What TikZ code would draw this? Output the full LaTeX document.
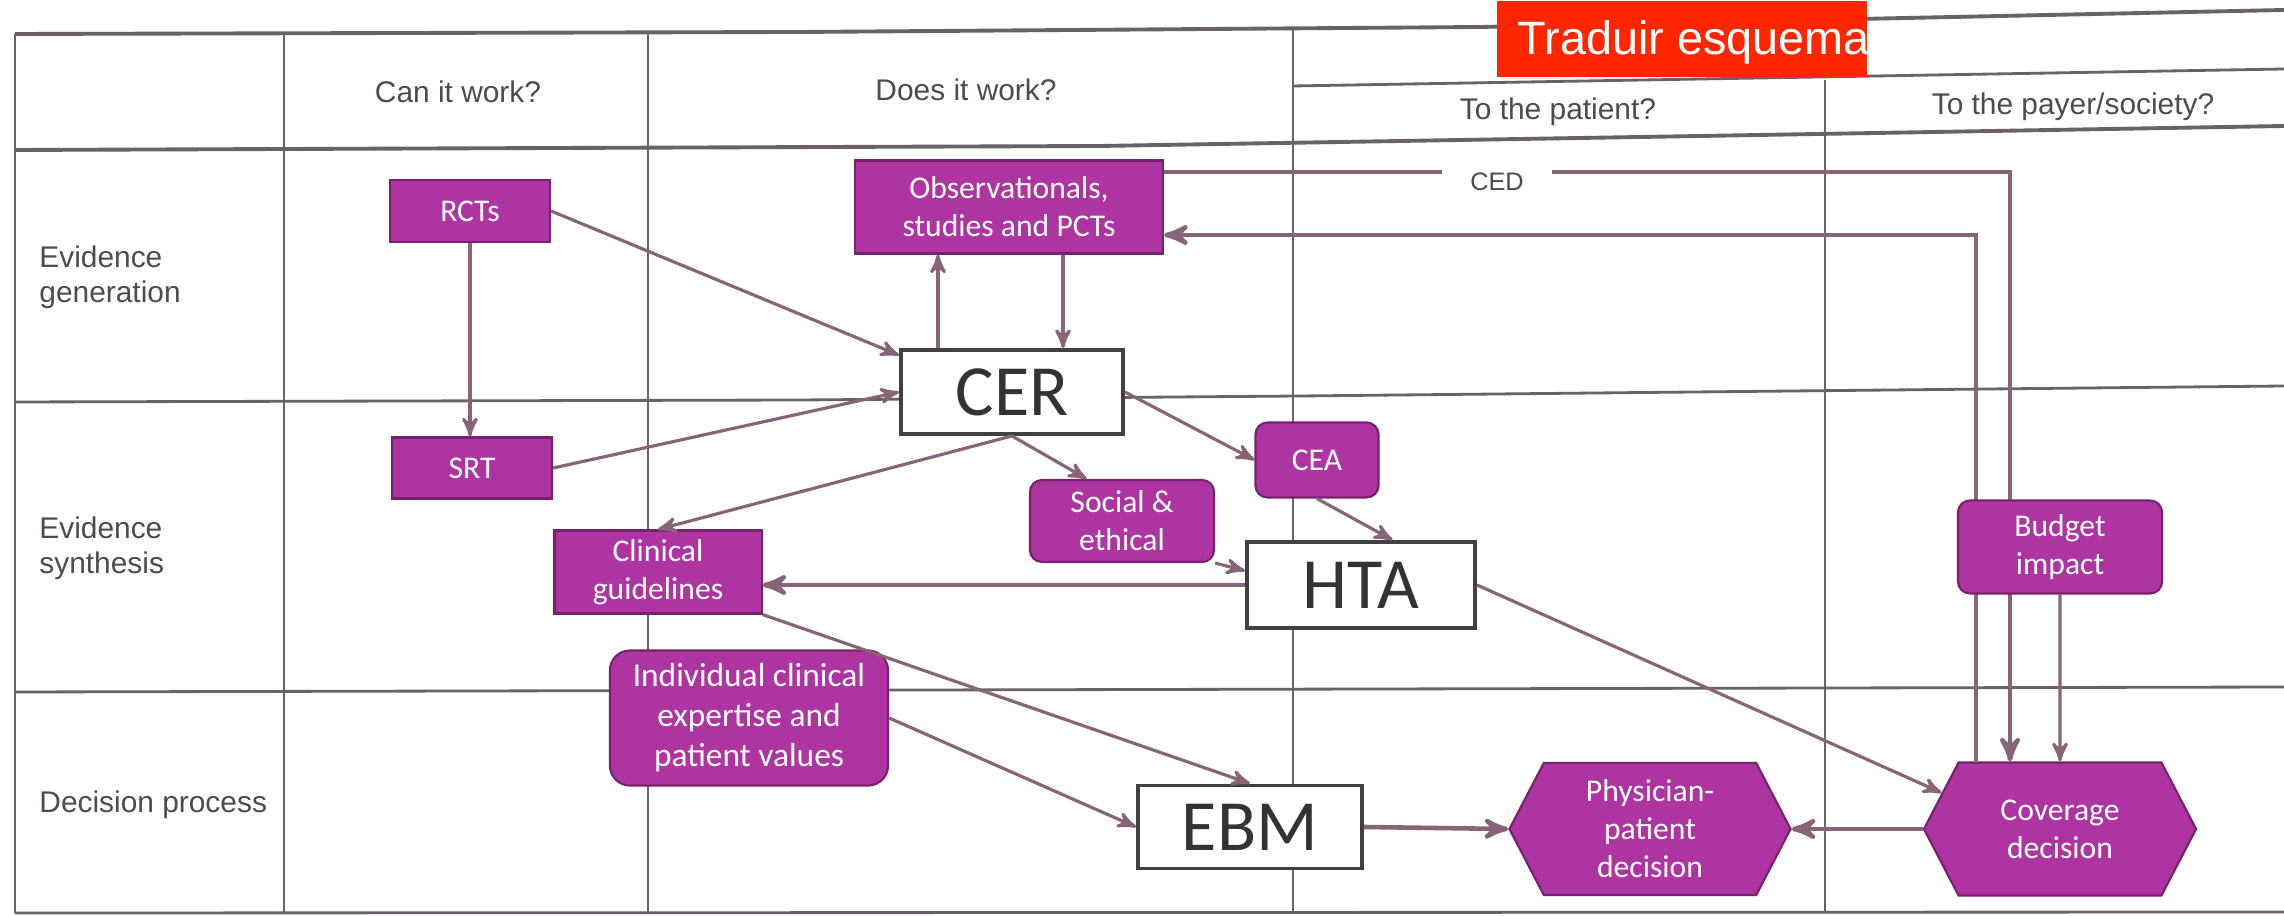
\documentclass[tikz,border=0pt]{standalone}
\usepackage{fontspec}
\setmainfont{Liberation Sans}
\newfontfamily\boxfont{Carlito}
\usepackage{tikz}
\usetikzlibrary{positioning}
\usetikzlibrary{arrows,shapes.symbols,backgrounds}
\usepackage{color}
\definecolor{boxpurple}{RGB}{174,52,162}
\definecolor{boxedge}{RGB}{118,34,108}
\definecolor{gridgray}{RGB}{105,98,105}
\definecolor{linkmauve}{RGB}{135,100,120}
\definecolor{labelgray}{RGB}{80,74,80}
\definecolor{tradred}{RGB}{255,38,0}

\begin{document}
\begin{tikzpicture}
[x=0.01cm, y=-0.01cm, >=stealth',
 purplebox/.style={draw=boxedge, line width=0.6pt, fill=boxpurple, text=white,
   font=\boxfont\fontsize{9}{10.8}\selectfont, align=center, inner sep=0pt},
 roundbox/.style={purplebox, rounded corners=0.12cm},
 hexbox/.style={purplebox, shape=signal, signal to=east and west, signal pointer angle=125},
 whitebox/.style={draw=black!75, line width=1.1pt, fill=white, text=black!80,
   font=\boxfont\fontsize{20.5}{24}\selectfont, inner sep=0pt},
 link/.style={->, draw=linkmauve, line width=0.9pt},
 biglink/.style={draw=linkmauve, line width=1.3pt},
 gridline/.style={draw=gridgray, line width=0.8pt},
 headline/.style={draw=gridgray, line width=1.1pt},
 tabletext/.style={text=labelgray, font=\fontsize{8.5}{10}\selectfont}]

\useasboundingbox (0,0) rectangle (2284,916);

% Row and column headings:
\node[tabletext] (canwork) at (458,92) {Can it work?};
\node[tabletext] (doeswork) at (966,90) {Does it work?};
\node[tabletext] (topatient) at (1558,112) {To the patient?};
\node[tabletext] (topayer) at (2073,107) {To the payer/society?};
\node[tabletext, anchor=west, align=left] (evgen) at (27,277) {Evidence\\generation};
\node[tabletext, anchor=west, align=left] (evsyn) at (27,548) {Evidence\\synthesis};
\node[tabletext, anchor=west] (decproc) at (27,805) {Decision process};

% Boxes:
\node[purplebox, minimum width=1.6cm, minimum height=0.62cm] (rcts) at (470,211) {RCTs};
\node[purplebox, minimum width=1.6cm, minimum height=0.61cm] (srt) at (472,468) {SRT};
\node[purplebox, minimum width=3.08cm, minimum height=0.93cm] (obs) at (1009,207) {Observationals,\\studies and PCTs};
\node[whitebox, minimum width=2.22cm, minimum height=0.84cm] (cer) at (1012,392) {CER};
\node[roundbox, minimum width=1.23cm, minimum height=0.75cm] (cea) at (1317,460) {CEA};
\node[roundbox, minimum width=1.84cm, minimum height=0.82cm] (social) at (1122,521) {Social \&\\ethical};
\node[whitebox, minimum width=2.28cm, minimum height=0.86cm] (hta) at (1361,585) {HTA};
\node[purplebox, minimum width=2.07cm, minimum height=0.83cm] (clinical) at (658,572) {Clinical\\guidelines};
\node[roundbox, minimum width=2.04cm, minimum height=0.93cm] (budget) at (2060,547) {Budget\\impact};
\node[roundbox, rounded corners=0.2cm, font=\boxfont\fontsize{9.5}{11.4}\selectfont,
      minimum width=2.78cm, minimum height=1.35cm] (indiv) at (749,718) {Individual clinical\\expertise and\\patient values};
\node[whitebox, minimum width=2.24cm, minimum height=0.83cm] (ebm) at (1250,827) {EBM};
\node[hexbox, minimum width=2.81cm, minimum height=1.32cm] (physician) at (1650,829) {Physician-\\patient\\decision};
\node[hexbox, minimum width=2.72cm, minimum height=1.33cm] (cover) at (2060,829) {Coverage\\decision};

% CED label and corners of the long feedback lines:
\node[text=labelgray, font=\fontsize{7.2}{9}\selectfont, inner xsep=0.28cm] (ced) at (1497,182) {CED};
\coordinate (cedcorner) at (2010,172);
\coordinate (backcorner) at (1976,235);

\begin{scope}[on background layer]
% Paper and table grid:
\fill[white] (0,0) rectangle (2284,916);
\draw[headline] (15,34) -- (800,32) -- (1480,27) -- (2284,10);
\draw[headline] (15,150) -- (1100,146) -- (1700,136) -- (2284,126);
\draw[gridline] (1293,86) -- (2284,69);
\draw[gridline] (15,402) -- (800,400) -- (1300,396) -- (2284,386);
\draw[gridline] (15,692) -- (2284,687);
\draw[gridline] (15,913) -- (2284,912);
\draw[gridline] (15,34) -- (15,913);
\draw[gridline] (284,33) -- (284,913);
\draw[gridline] (648,32) -- (648,913);
\draw[gridline] (1293,29) -- (1293,913);
\draw[gridline] (1825,80) -- (1825,912);
% Lines running behind the budget box:
\draw[biglink] (obs.east |- cedcorner) -- (ced.west |- cedcorner);
\draw[biglink,->] (ced.east |- cedcorner) -- (cedcorner) -- (cedcorner |- cover.north);
\draw[biglink,->] (backcorner |- cover.north) -- (backcorner) -- (backcorner -| obs.east);
\end{scope}

% Arrows between the boxes:
\draw[link] (rcts.south) -- (rcts.south |- srt.north);
\draw[link] (rcts.east) -- (cer.162);
\draw[link] (srt.east) -- (cer.west);
\draw[link] ([xshift=-0.74cm]cer.north) -- ([xshift=-0.74cm]cer.north |- obs.south);
\draw[link] ([xshift=0.51cm]cer.north |- obs.south) -- ([xshift=0.51cm]cer.north);
\draw[link] (cer.east) -- (cea.west);
\draw[link] (cer.south) -- (social.130);
\draw[link] (cer.south) -- (clinical.north);
\draw[link] (cea.south) -- (hta.55);
\draw[link] (social.south east) -- (hta.173);
\draw[link] (clinical.south east) -- (ebm.north);
\draw[link] (indiv.east) -- (ebm.west);
\draw[link] (hta.east) -- (cover.163);
\draw[link] (budget) -- (cover);
\draw[biglink,->] (hta.west) -- (hta.west -| clinical.east);
\draw[biglink,->] (ebm.east) -- (physician.west);
\draw[biglink,->] (cover.west) -- (physician.east);

% Overlay label:
\node[fill=tradred, anchor=north west, minimum width=3.7cm, minimum height=0.76cm, inner sep=0pt] (banner) at (1496,0) {};
\node[anchor=base west, text=white, font=\fontsize{13.3}{16}\selectfont, inner sep=0pt] (bannertext) at (1517,55) {Traduir esquema};

\end{tikzpicture}
\end{document}
